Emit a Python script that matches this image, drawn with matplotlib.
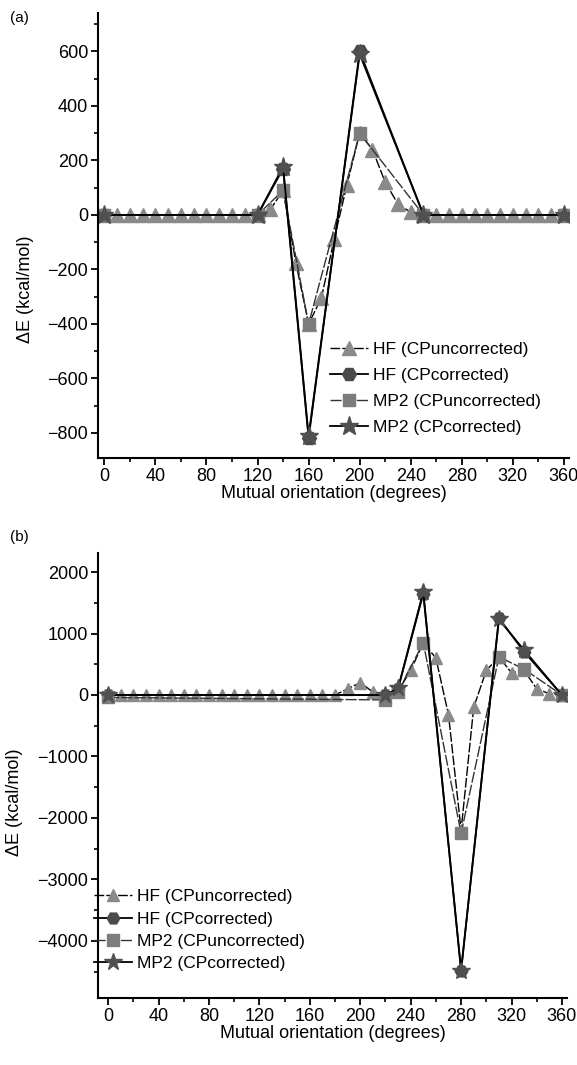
import matplotlib
matplotlib.use("Agg")
import matplotlib.pyplot as plt
from matplotlib.ticker import MultipleLocator

plt.rcParams['font.family'] = ['Liberation Sans Narrow', 'Liberation Sans', 'DejaVu Sans']

labels = ["HF (CPuncorrected)", "HF (CPcorrected)", "MP2 (CPuncorrected)", "MP2 (CPcorrected)"]

# panel (a)
a_hf_unc_x = list(range(0, 361, 10))
a_hf_unc_y = [0] * 13 + [20, 90, -175, -400, -305, -90, 110, 300, 240, 120, 40, 10] + [0] * 12
a_cor_x = [0, 120, 140, 160, 200, 250, 360]
a_hf_cor_y = [0, 0, 170, -820, 600, 0, 0]
a_mp2_unc_y = [0, 0, 90, -400, 300, 0, 0]
a_mp2_cor_y = [0, 0, 177, -810, 590, 0, 0]

# panel (b)
b_hf_unc_x = list(range(0, 361, 10))
b_hf_unc_y = [0] * 19 + [100, 200, 50, -40, 60, 400, 850, 600, -320, -2200, -200, 400, 620, 360, 400, 100, 20, 0]
b_cor_x = [0, 220, 230, 250, 280, 310, 330, 360]
b_hf_cor_y = [0, 0, 100, 1650, -4480, 1250, 700, 0]
b_mp2_unc_y = [-40, -80, 50, 850, -2250, 620, 420, 0]
b_mp2_cor_y = [0, 0, 110, 1680, -4480, 1230, 730, 0]

W, H = 577, 1065
fig = plt.figure(figsize=(W / 100, H / 100), dpi=100)


def add_axes(left, top, width, height):
    return fig.add_axes([left / W, 1 - (top + height) / H, width / W, height / H])


def style(ax, ymajor, yminor):
    for s in ['top', 'right']:
        ax.spines[s].set_visible(False)
    for s in ['left', 'bottom']:
        ax.spines[s].set_linewidth(1.5)
    ax.xaxis.set_major_locator(MultipleLocator(40))
    ax.xaxis.set_minor_locator(MultipleLocator(20))
    ax.yaxis.set_major_locator(MultipleLocator(ymajor))
    ax.yaxis.set_minor_locator(MultipleLocator(yminor))
    ax.tick_params(which='major', direction='out', length=5, width=1.3, labelsize=13, pad=2)
    ax.tick_params(which='minor', direction='out', length=3, width=1.2)
    ax.set_xlabel("Mutual orientation (degrees)", fontsize=13, labelpad=0)


def draw(ax, hx, hy, cx, hcy, muy, mcy, ms):
    ax.plot(hx, hy, color='black', lw=1.0, ls=(0, (7, 1.5)), marker='^', ms=ms,
            mfc='#8a8a8a', mec='#8a8a8a', label=labels[0])
    ax.plot(cx, hcy, color='black', lw=1.3, marker='H', ms=ms,
            mfc='#4a4a4a', mec='#4a4a4a', label=labels[1])
    ax.plot(cx, muy, color='#333333', lw=1.0, ls=(0, (8, 1.5)), marker='s', ms=ms - 1,
            mfc='#7c7c7c', mec='#7c7c7c', label=labels[2])
    ax.plot(cx, mcy, color='black', lw=1.3, marker='*', ms=ms + 4,
            mfc='#505050', mec='#505050', label=labels[3])


ax1 = add_axes(98, 13, 471, 445)
draw(ax1, a_hf_unc_x, a_hf_unc_y, a_cor_x, a_hf_cor_y, a_mp2_unc_y, a_mp2_cor_y, 10)
ax1.set_xlim(-5, 364)
ax1.set_ylim(-892, 741)
style(ax1, 200, 100)
ax1.set_ylabel("ΔE (kcal/mol)", fontsize=13)
ax1.yaxis.set_label_coords(-0.135, 0.38)
ax1.legend(loc='upper left', bbox_to_anchor=(330 / W, 1 - 342 / H), bbox_transform=fig.transFigure,
           frameon=False, fontsize=12.5, handlelength=2.2, handletextpad=0.3, labelspacing=0.62,
           borderaxespad=0, borderpad=0)

ax2 = add_axes(98, 553, 469, 445)
draw(ax2, b_hf_unc_x, b_hf_unc_y, b_cor_x, b_hf_cor_y, b_mp2_unc_y, b_mp2_cor_y, 9)
ax2.set_xlim(-8, 364)
ax2.set_ylim(-4927, 2309)
style(ax2, 1000, 500)
ax2.set_ylabel("ΔE (kcal/mol)", fontsize=13)
ax2.yaxis.set_label_coords(-0.16, 0.44)
ax2.legend(loc='upper left', bbox_to_anchor=(94 / W, 1 - 889 / H), bbox_transform=fig.transFigure,
           frameon=False, fontsize=12.5, handlelength=2.2, handletextpad=0.3, labelspacing=0.42,
           borderaxespad=0, borderpad=0)

fig.text(10 / W, 1 - 18 / H, "(a)", fontsize=11, va='center', ha='left')
fig.text(10 / W, 1 - 537 / H, "(b)", fontsize=11, va='center', ha='left')

fig.savefig("out.png", dpi=100)
